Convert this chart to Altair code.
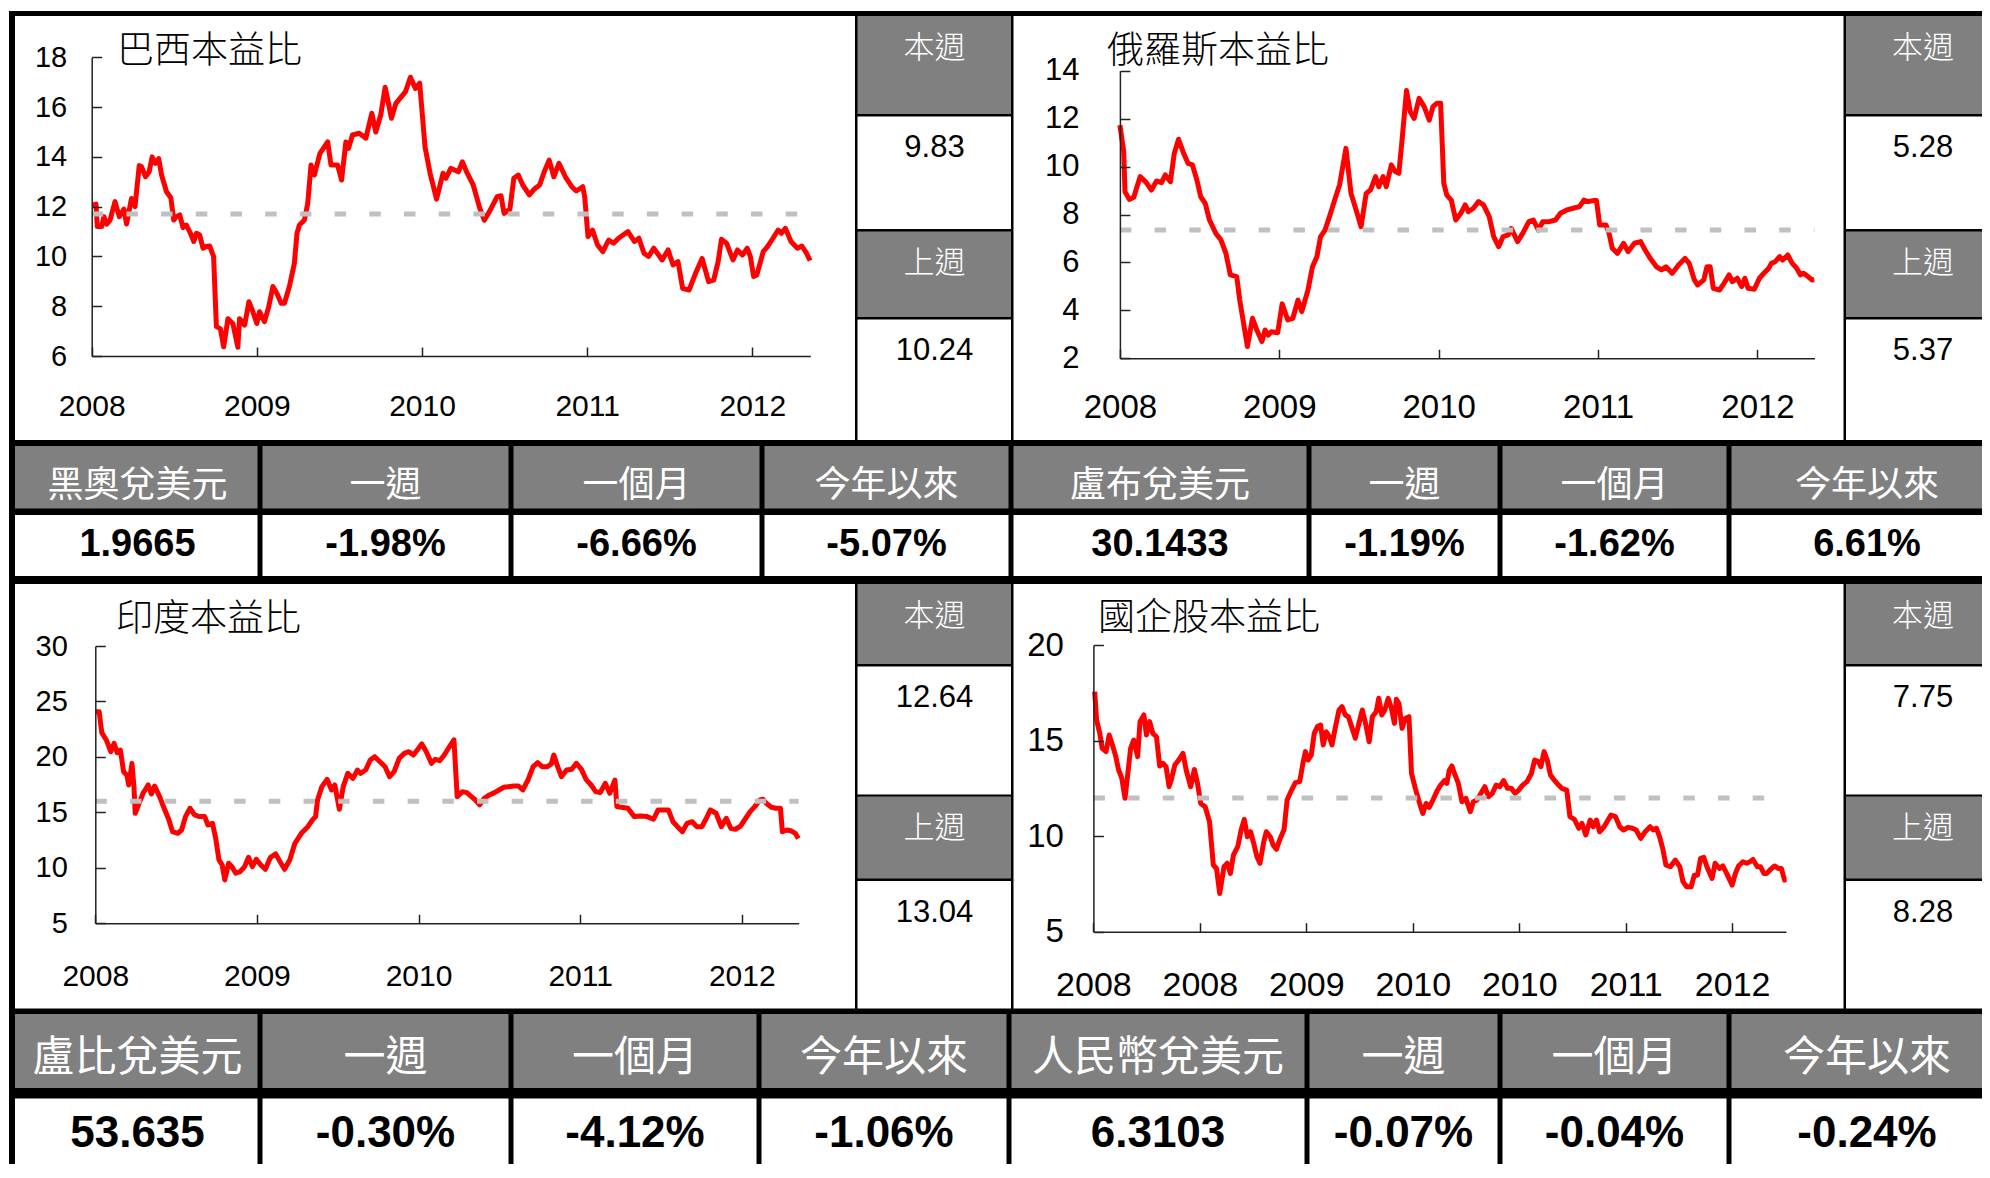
import altair as alt
import pandas as pd

# ---------------- data ----------------
titles = ["巴西本益比", "俄羅斯本益比", "印度本益比", "國企股本益比"]

brazil_t = [2008.006, 2008.026, 2008.034, 2008.060, 2008.074, 2008.091, 2008.111, 2008.141, 2008.167, 2008.195,
            2008.211, 2008.241, 2008.262, 2008.288, 2008.302, 2008.326, 2008.348, 2008.366, 2008.386, 2008.406,
            2008.423, 2008.453, 2008.479, 2008.497, 2008.513, 2008.533, 2008.553, 2008.573, 2008.598, 2008.618,
            2008.634, 2008.654, 2008.674, 2008.694, 2008.714, 2008.738, 2008.755, 2008.779, 2008.799, 2008.825,
            2008.855, 2008.885, 2008.895, 2008.926, 2008.952, 2008.976, 2009.000, 2009.016, 2009.046, 2009.072,
            2009.097, 2009.121, 2009.147, 2009.167, 2009.197, 2009.227, 2009.243, 2009.258, 2009.288, 2009.308,
            2009.328, 2009.348, 2009.382, 2009.429, 2009.449, 2009.489, 2009.513, 2009.539, 2009.555, 2009.579,
            2009.620, 2009.660, 2009.696, 2009.720, 2009.750, 2009.777, 2009.815, 2009.842, 2009.900, 2009.930,
            2009.960, 2009.986, 2010.018, 2010.049, 2010.088, 2010.127, 2010.145, 2010.174, 2010.220, 2010.244,
            2010.270, 2010.310, 2010.350, 2010.377, 2010.408, 2010.455, 2010.478, 2010.497, 2010.532, 2010.556,
            2010.583, 2010.610, 2010.650, 2010.681, 2010.712, 2010.740, 2010.770, 2010.798, 2010.829, 2010.868,
            2010.907, 2010.934, 2010.973, 2010.985, 2011.005, 2011.032, 2011.063, 2011.095, 2011.130, 2011.160,
            2011.190, 2011.247, 2011.286, 2011.313, 2011.344, 2011.372, 2011.403, 2011.454, 2011.490, 2011.520,
            2011.550, 2011.578, 2011.617, 2011.656, 2011.696, 2011.735, 2011.766, 2011.793, 2011.813, 2011.844,
            2011.883, 2011.910, 2011.940, 2011.969, 2011.988, 2012.008, 2012.027, 2012.066, 2012.093, 2012.125,
            2012.156, 2012.176, 2012.200, 2012.234, 2012.273, 2012.300, 2012.328, 2012.350]
brazil_v = [12.07, 12.1, 11.2, 11.2, 11.6, 11.3, 11.46, 12.2, 11.6, 11.9,
            11.3, 12.33, 12.0, 13.65, 13.6, 13.2, 13.4, 14.0, 13.74, 13.93,
            13.27, 12.6, 12.36, 11.46, 11.6, 11.67, 11.16, 11.26, 10.93, 10.6,
            10.93, 10.86, 10.33, 10.4, 10.42, 10.0, 7.18, 7.1, 6.37, 7.5,
            7.3, 6.35, 7.5, 7.24, 8.18, 7.78, 7.31, 7.78, 7.38, 7.98,
            8.79, 8.52, 8.12, 8.12, 8.79, 9.72, 10.93, 11.26, 11.46, 12.13,
            13.67, 13.27, 14.14, 14.6, 13.67, 13.67, 13.07, 14.6, 14.34, 14.88,
            14.95, 14.75, 15.75, 15.0, 15.68, 16.8, 15.55, 16.15, 16.62, 17.2,
            16.75, 16.96, 14.41, 13.34, 12.3, 13.34, 13.14, 13.54, 13.4, 13.8,
            13.4, 12.87, 11.93, 11.46, 11.8, 12.4, 12.44, 11.73, 11.89, 13.14,
            13.27, 12.87, 12.47, 12.71, 12.87, 13.4, 13.87, 13.2, 13.74, 13.2,
            12.8, 12.63, 12.8, 12.4, 10.8, 11.06, 10.46, 10.19, 10.66, 10.53,
            10.73, 11.0, 10.6, 10.73, 10.13, 10.0, 10.33, 9.86, 10.26, 9.66,
            9.79, 8.72, 8.65, 9.32, 9.92, 8.99, 9.05, 9.79, 10.69, 10.53,
            9.86, 10.26, 10.06, 10.33, 10.0, 9.19, 9.25, 10.19, 10.4, 10.73,
            11.06, 10.93, 11.13, 10.6, 10.33, 10.42, 10.13, 9.83]

russia_t = [2008.000, 2008.024, 2008.032, 2008.059, 2008.087, 2008.127, 2008.166, 2008.198, 2008.230, 2008.261,
            2008.285, 2008.317, 2008.341, 2008.368, 2008.396, 2008.428, 2008.455, 2008.483, 2008.507, 2008.535,
            2008.562, 2008.602, 2008.634, 2008.665, 2008.693, 2008.733, 2008.752, 2008.800, 2008.832, 2008.859,
            2008.891, 2008.911, 2008.931, 2008.950, 2008.990, 2009.018, 2009.053, 2009.085, 2009.117, 2009.141,
            2009.180, 2009.208, 2009.236, 2009.259, 2009.287, 2009.315, 2009.347, 2009.378, 2009.418, 2009.450,
            2009.485, 2009.513, 2009.545, 2009.572, 2009.604, 2009.624, 2009.651, 2009.671, 2009.703, 2009.727,
            2009.750, 2009.770, 2009.798, 2009.822, 2009.846, 2009.877, 2009.909, 2009.941, 2009.964, 2009.988,
            2010.012, 2010.032, 2010.051, 2010.079, 2010.107, 2010.139, 2010.166, 2010.186, 2010.218, 2010.250,
            2010.281, 2010.317, 2010.345, 2010.376, 2010.404, 2010.436, 2010.455, 2010.495, 2010.527, 2010.566,
            2010.594, 2010.626, 2010.653, 2010.693, 2010.733, 2010.764, 2010.804, 2010.844, 2010.883, 2010.911,
            2010.939, 2010.970, 2010.990, 2011.010, 2011.050, 2011.069, 2011.089, 2011.121, 2011.160, 2011.188,
            2011.228, 2011.267, 2011.295, 2011.327, 2011.366, 2011.398, 2011.426, 2011.465, 2011.505, 2011.545,
            2011.572, 2011.604, 2011.624, 2011.663, 2011.683, 2011.703, 2011.723, 2011.762, 2011.790, 2011.822,
            2011.842, 2011.873, 2011.901, 2011.921, 2011.941, 2011.980, 2012.012, 2012.040, 2012.071, 2012.087,
            2012.111, 2012.139, 2012.158, 2012.190, 2012.218, 2012.246, 2012.270, 2012.289, 2012.317, 2012.341,
            2012.356]
russia_v = [11.73, 10.62, 8.95, 8.63, 8.72, 9.58, 9.33, 9.02, 9.4, 9.33,
            9.65, 9.37, 10.55, 11.14, 10.62, 10.13, 10.07, 9.44, 8.74, 8.47,
            7.77, 7.21, 6.94, 6.38, 5.48, 5.41, 4.43, 2.49, 3.67, 3.18,
            2.7, 3.18, 2.97, 3.11, 3.07, 4.27, 3.6, 3.67, 4.43, 3.95,
            4.85, 5.82, 6.24, 7.08, 7.35, 7.91, 8.6, 9.23, 10.76, 8.88,
            8.12, 7.49, 8.88, 9.02, 9.58, 9.16, 9.58, 9.16, 10.07, 9.79,
            9.72, 11.1, 13.17, 12.29, 12.01, 12.85, 12.5, 11.94, 12.5, 12.64,
            12.64, 9.3, 8.81, 8.6, 7.77, 8.05, 8.4, 8.12, 8.26, 8.54,
            8.4, 7.91, 7.08, 6.66, 7.08, 7.15, 7.42, 6.87, 7.21, 7.7,
            7.77, 7.35, 7.7, 7.7, 7.77, 8.05, 8.19, 8.26, 8.33, 8.6,
            8.54, 8.58, 8.58, 7.56, 7.56, 7.21, 6.59, 6.38, 6.8, 6.45,
            6.8, 6.87, 6.52, 6.17, 5.82, 5.69, 5.82, 5.55, 5.89, 6.17,
            5.96, 5.27, 5.06, 5.27, 5.82, 5.82, 4.92, 4.85, 5.13, 5.48,
            5.2, 5.34, 4.99, 5.34, 4.92, 4.88, 5.34, 5.55, 5.76, 5.96,
            6.03, 6.24, 6.1, 6.31, 5.96, 5.76, 5.48, 5.55, 5.41, 5.27,
            5.28]

india_t = [2008.000, 2008.024, 2008.040, 2008.068, 2008.096, 2008.116, 2008.135, 2008.155, 2008.175, 2008.195,
           2008.207, 2008.227, 2008.239, 2008.247, 2008.271, 2008.295, 2008.327, 2008.347, 2008.367, 2008.398,
           2008.426, 2008.454, 2008.478, 2008.510, 2008.534, 2008.558, 2008.586, 2008.614, 2008.645, 2008.677,
           2008.697, 2008.725, 2008.745, 2008.765, 2008.785, 2008.801, 2008.825, 2008.845, 2008.869, 2008.896,
           2008.924, 2008.948, 2008.972, 2008.996, 2009.024, 2009.052, 2009.084, 2009.116, 2009.143, 2009.171,
           2009.203, 2009.235, 2009.275, 2009.315, 2009.343, 2009.363, 2009.375, 2009.402, 2009.434, 2009.462,
           2009.482, 2009.510, 2009.534, 2009.562, 2009.594, 2009.622, 2009.641, 2009.673, 2009.701, 2009.729,
           2009.761, 2009.793, 2009.821, 2009.849, 2009.880, 2009.912, 2009.940, 2009.968, 2009.992, 2010.020,
           2010.048, 2010.080, 2010.104, 2010.131, 2010.159, 2010.191, 2010.219, 2010.239, 2010.271, 2010.299,
           2010.327, 2010.351, 2010.378, 2010.406, 2010.438, 2010.470, 2010.498, 2010.526, 2010.558, 2010.586,
           2010.618, 2010.645, 2010.677, 2010.709, 2010.737, 2010.765, 2010.797, 2010.821, 2010.837, 2010.861,
           2010.884, 2010.916, 2010.948, 2010.976, 2011.008, 2011.036, 2011.068, 2011.096, 2011.124, 2011.155,
           2011.183, 2011.215, 2011.227, 2011.255, 2011.295, 2011.335, 2011.375, 2011.414, 2011.454, 2011.482,
           2011.514, 2011.546, 2011.574, 2011.602, 2011.633, 2011.661, 2011.693, 2011.721, 2011.753, 2011.781,
           2011.805, 2011.841, 2011.873, 2011.904, 2011.932, 2011.960, 2011.992, 2012.024, 2012.052, 2012.080,
           2012.112, 2012.131, 2012.151, 2012.183, 2012.211, 2012.239, 2012.251, 2012.279, 2012.303, 2012.331,
           2012.350]
india_v = [24.08, 24.08, 22.19, 21.53, 20.47, 21.23, 20.38, 20.62, 18.67, 18.37,
           17.47, 19.42, 17.32, 14.92, 15.82, 16.72, 17.47, 16.66, 17.38, 16.42,
           15.37, 14.38, 13.26, 13.11, 13.41, 14.62, 15.37, 14.77, 14.62, 14.62,
           13.86, 14.01, 12.66, 10.71, 10.26, 8.91, 10.41, 10.11, 9.51, 9.66,
           10.11, 10.95, 10.11, 10.77, 10.26, 9.87, 10.95, 11.25, 10.56, 9.87,
           10.71, 12.21, 13.11, 13.71, 14.31, 14.62, 16.12, 17.32, 17.98, 17.02,
           17.47, 15.28, 17.32, 18.52, 18.07, 18.82, 18.52, 18.82, 19.72, 20.02,
           19.57, 19.12, 18.22, 18.67, 19.87, 20.32, 20.47, 20.17, 20.62, 21.17,
           20.47, 19.42, 19.78, 19.66, 20.17, 20.92, 21.53, 16.42, 16.87, 16.78,
           16.42, 16.12, 15.67, 16.27, 16.57, 16.78, 17.02, 17.26, 17.32, 17.38,
           17.38, 17.02, 17.92, 19.12, 19.48, 19.12, 19.12, 19.36, 20.17, 19.12,
           18.22, 18.82, 18.88, 19.42, 18.88, 17.98, 17.47, 16.87, 16.78, 17.62,
           16.72, 17.92, 15.52, 15.46, 15.37, 14.62, 14.68, 14.62, 14.38, 15.22,
           15.22, 15.22, 14.16, 13.71, 13.26, 14.01, 14.16, 13.71, 13.71, 14.47,
           15.22, 14.92, 13.71, 14.47, 13.56, 13.47, 13.77, 14.47, 15.07, 15.52,
           16.12, 16.18, 15.82, 15.46, 15.37, 15.37, 13.26, 13.41, 13.35, 13.11,
           12.64]

hshare_t = [2008.008, 2008.020, 2008.040, 2008.055, 2008.079, 2008.099, 2008.119, 2008.138, 2008.158, 2008.178,
            2008.198, 2008.217, 2008.233, 2008.253, 2008.277, 2008.292, 2008.316, 2008.332, 2008.352, 2008.372,
            2008.395, 2008.415, 2008.435, 2008.455, 2008.474, 2008.490, 2008.510, 2008.534, 2008.561, 2008.581,
            2008.609, 2008.632, 2008.652, 2008.672, 2008.700, 2008.727, 2008.751, 2008.771, 2008.791, 2008.818,
            2008.838, 2008.858, 2008.877, 2008.905, 2008.925, 2008.945, 2008.964, 2008.984, 2009.004, 2009.024,
            2009.043, 2009.067, 2009.083, 2009.107, 2009.126, 2009.146, 2009.166, 2009.194, 2009.213, 2009.241,
            2009.265, 2009.292, 2009.312, 2009.328, 2009.344, 2009.364, 2009.383, 2009.403, 2009.423, 2009.439,
            2009.458, 2009.478, 2009.494, 2009.514, 2009.538, 2009.557, 2009.577, 2009.597, 2009.617, 2009.640,
            2009.660, 2009.684, 2009.704, 2009.727, 2009.747, 2009.771, 2009.787, 2009.806, 2009.826, 2009.846,
            2009.866, 2009.885, 2009.897, 2009.913, 2009.933, 2009.953, 2009.976, 2009.992, 2010.016, 2010.043,
            2010.063, 2010.083, 2010.103, 2010.126, 2010.150, 2010.174, 2010.198, 2010.213, 2010.229, 2010.245,
            2010.261, 2010.285, 2010.308, 2010.332, 2010.360, 2010.379, 2010.403, 2010.427, 2010.451, 2010.474,
            2010.498, 2010.522, 2010.545, 2010.569, 2010.593, 2010.617, 2010.640, 2010.664, 2010.688, 2010.715,
            2010.743, 2010.763, 2010.787, 2010.802, 2010.822, 2010.842, 2010.862, 2010.885, 2010.913, 2010.933,
            2010.964, 2010.984, 2011.012, 2011.040, 2011.059, 2011.083, 2011.111, 2011.130, 2011.150, 2011.170,
            2011.198, 2011.217, 2011.241, 2011.269, 2011.296, 2011.320, 2011.348, 2011.375, 2011.399, 2011.427,
            2011.455, 2011.486, 2011.506, 2011.526, 2011.545, 2011.565, 2011.585, 2011.613, 2011.644, 2011.672,
            2011.692, 2011.715, 2011.743, 2011.763, 2011.783, 2011.802, 2011.822, 2011.842, 2011.874, 2011.893,
            2011.921, 2011.941, 2011.960, 2011.980, 2012.000, 2012.020, 2012.040, 2012.067, 2012.091, 2012.111,
            2012.130, 2012.158, 2012.178, 2012.198, 2012.217, 2012.237, 2012.265, 2012.289, 2012.308, 2012.328,
            2012.336]
hshare_v = [17.56, 16.08, 15.38, 14.59, 14.42, 15.29, 14.77, 14.24, 13.46, 13.02,
            11.98, 13.37, 14.59, 15.03, 14.16, 15.99, 16.34, 15.29, 15.99, 15.38,
            15.2, 13.67, 13.81, 13.63, 12.59, 13.02, 13.72, 13.98, 14.33, 13.46,
            12.59, 13.49, 12.76, 11.71, 11.54, 10.76, 8.49, 8.31, 7.0, 8.4,
            8.58, 8.05, 9.01, 9.48, 10.32, 10.88, 9.97, 10.23, 9.62, 8.92,
            8.58, 9.71, 10.23, 9.97, 9.53, 9.31, 9.8, 10.35, 11.89, 12.41,
            12.8, 12.85, 13.81, 14.42, 13.98, 14.24, 15.38, 15.73, 15.81, 14.77,
            15.46, 15.2, 14.77, 15.64, 16.6, 16.77, 16.34, 16.25, 15.73, 15.12,
            15.81, 16.6, 15.9, 14.94, 16.25, 16.51, 17.21, 16.34, 16.63, 17.21,
            16.69, 15.9, 17.16, 16.95, 15.64, 16.16, 16.25, 13.28, 12.5, 11.71,
            11.19, 11.71, 11.51, 11.89, 12.33, 12.67, 12.9, 12.76, 13.46, 13.67,
            13.28, 12.76, 11.8, 11.98, 11.28, 11.8, 11.89, 12.24, 12.59, 12.06,
            12.24, 12.67, 12.59, 12.9, 12.5, 12.5, 12.24, 12.41, 12.67, 12.85,
            13.28, 13.98, 13.9, 13.63, 14.42, 13.98, 13.2, 12.94, 12.67, 12.5,
            12.41, 11.02, 10.88, 10.41, 10.67, 10.06, 10.84, 10.49, 10.84, 10.23,
            10.49, 10.76, 11.1, 11.02, 10.49, 10.32, 10.46, 10.41, 10.32, 9.88,
            10.23, 10.49, 10.32, 10.41, 9.97, 9.36, 8.49, 8.4, 8.75, 8.4,
            7.62, 7.35, 7.35, 7.96, 7.96, 8.84, 8.89, 8.4, 7.79, 8.58,
            8.31, 8.44, 8.14, 7.79, 7.44, 8.05, 8.44, 8.66, 8.58, 8.66,
            8.78, 8.4, 8.4, 8.05, 8.05, 8.23, 8.44, 8.31, 8.31, 7.7,
            7.75]

avg_values = [11.7, 7.35, 16.0, 12.0]
this_week = ["9.83", "5.28", "12.64", "7.75"]
last_week = ["10.24", "5.37", "13.04", "8.28"]
side_labels = ["本週", "上週"]
year_ticks = [2008, 2009, 2010, 2011, 2012]
hshare_ticks = [2008, 2008 + 8 / 12, 2009 + 4 / 12, 2010, 2010 + 8 / 12, 2011 + 4 / 12, 2012]

fx_head_1 = ["黑奧兌美元", "一週", "一個月", "今年以來", "盧布兌美元", "一週", "一個月", "今年以來"]
fx_val_1 = ["1.9665", "-1.98%", "-6.66%", "-5.07%", "30.1433", "-1.19%", "-1.62%", "6.61%"]
fx_head_2 = ["盧比兌美元", "一週", "一個月", "今年以來", "人民幣兌美元", "一週", "一個月", "今年以來"]
fx_val_2 = ["53.635", "-0.30%", "-4.12%", "-1.06%", "6.3103", "-0.07%", "-0.04%", "-0.24%"]

# ---------------- layout (page pixel coordinates, minus margin M) ----------------
W, H = 1974, 1156
M = 8
BLACK, WHITE, GRAY = "#000000", "#ffffff", "#808080"
CJK = "Noto Sans CJK TC"
NUM = "Liberation Sans, Arial, Helvetica, sans-serif"
NARROW = "Liberation Sans Narrow, Arial Narrow, Liberation Sans, Arial, sans-serif"
AXC = "#222222"

rects = []


def rect(x0, y0, x1, y1, fill):
    rects.append({"x": x0 - M, "x2": x1 - M, "y": y0 - M, "y2": y1 - M, "fill": fill})


rect(9, 11, 2010, 1200, BLACK)
panel_rows = [(16, 440), (584, 1008.5)]
for y0, y1 in panel_rows:
    rect(15, y0, 855, y1, WHITE)
    rect(1013.5, y0, 1843.5, y1, WHITE)

side_boxes = [
    [(16, 114, GRAY), (116.5, 229, WHITE), (231.5, 317, GRAY), (319.5, 440, WHITE)],
    [(584, 664, GRAY), (666.5, 794.5, WHITE), (796.5, 878.5, GRAY), (881, 1008.5, WHITE)],
]
side_x = [(857.5, 1011), (1846, 2010)]
side_cx = [934.5, 1923]
for boxes in side_boxes:
    for sx0, sx1 in side_x:
        for by0, by1, f in boxes:
            rect(sx0, by0, sx1, by1, f)

table_rows = [
    dict(bounds=[15, 260, 511, 762, 1011, 1309, 1500, 1729, 2005], head=(446, 508.5), val=(515, 576),
         heads=fx_head_1, vals=fx_val_1, hfs=36, vfs=38, hy=477.5 + M, vy=537 + M),
    dict(bounds=[15, 260, 511, 759, 1009, 1307, 1500, 1729, 2005], head=(1014, 1088), val=(1098.5, 1173),
         heads=fx_head_2, vals=fx_val_2, hfs=42, vfs=44, hy=1050 + M, vy=1126 + M),
]
head_txt, val_txt = [], []
for tr in table_rows:
    b = tr["bounds"]
    for i in range(8):
        left = b[i] + (0 if i == 0 else 2.5)
        right = 2010 if i == 7 else b[i + 1] - 2.5
        rect(left, tr["head"][0], right, tr["head"][1], GRAY)
        rect(left, tr["val"][0], right, tr["val"][1], WHITE)
        cx = (b[i] + b[i + 1]) / 2 - M
        head_txt.append({"x": cx, "y": tr["hy"] - M, "text": tr["heads"][i], "fs": tr["hfs"]})
        val_txt.append({"x": cx, "y": tr["vy"] - M, "text": tr["vals"][i], "fs": tr["vfs"]})

# side panel texts (30px below each box top)
side_lab_txt, side_val_txt = [], []
for r, boxes in enumerate(side_boxes):
    for c in range(2):
        idx = r * 2 + c
        cx = side_cx[c] - M
        side_lab_txt.append({"x": cx, "y": boxes[0][0] + 30 + 2.5 - M, "text": side_labels[0]})
        side_val_txt.append({"x": cx, "y": boxes[1][0] + 30 + 1.8 - M, "text": this_week[idx]})
        side_lab_txt.append({"x": cx, "y": boxes[2][0] + 30 + 2.5 - M, "text": side_labels[1]})
        side_val_txt.append({"x": cx, "y": boxes[3][0] + 30 + 1.8 - M, "text": last_week[idx]})

charts = [
    dict(t=brazil_t, v=brazil_v, avg=avg_values[0], xdom=[2008, 2012.351], ydom=[6, 18], yvals=list(range(6, 19, 2)),
         xvals=year_ticks, xpx=(91.7, 810.3), ypx=(356.0, 57.3), title=(117, 49), yfs=29, ypad=25, xfs=30, xpad=35),
    dict(t=russia_t, v=russia_v, avg=avg_values[1], xdom=[2008, 2012.357], ydom=[2, 14], yvals=list(range(2, 15, 2)),
         xvals=year_ticks, xpx=(1119.9, 1814.4), ypx=(358.3, 70.7), title=(1107, 49), yfs=31, ypad=41, xfs=33, xpad=33),
    dict(t=india_t, v=india_v, avg=avg_values[2], xdom=[2008, 2012.352], ydom=[5, 30], yvals=list(range(5, 31, 5)),
         xvals=year_ticks, xpx=(95.3, 798.7), ypx=(923.3, 646.0), title=(116, 617), yfs=29, ypad=28, xfs=30, xpad=38),
    dict(t=hshare_t, v=hshare_v, avg=avg_values[3], xdom=[2008, 2012.337], ydom=[5, 20], yvals=list(range(5, 21, 5)),
         xvals=hshare_ticks, xpx=(1093.4, 1786.0), ypx=(931.7, 645.0), title=(1098, 616), yfs=33, ypad=30, xfs=34, xpad=37),
]

layers = []
layers.append(
    alt.Chart(pd.DataFrame(rects)).mark_rect(strokeWidth=0).encode(
        x=alt.X("x:Q", scale=None, axis=None), x2="x2:Q",
        y=alt.Y("y:Q", scale=None, axis=None), y2="y2:Q",
        color=alt.Color("fill:N", scale=None, legend=None),
    )
)

title_txt = []
for i, c in enumerate(charts):
    x0, x1 = c["xpx"][0] - M, c["xpx"][1] - M
    yb, yt = c["ypx"][0] - M, c["ypx"][1] - M
    xs = alt.Scale(domain=c["xdom"], range=[x0, x1], nice=False, zero=False)
    ys = alt.Scale(domain=c["ydom"], range=[yb, yt], nice=False, zero=False)
    df = pd.DataFrame({"t": c["t"], "v": c["v"]})
    xaxis = alt.Axis(orient="bottom", offset=yb - H, values=c["xvals"], labelExpr="floor(datum.value)",
                     ticks=False, domain=True, domainColor=AXC, domainWidth=1.5, grid=False, title=None,
                     labelFont=NUM, labelFontSize=c["xfs"], labelColor=BLACK, labelPadding=c["xpad"],
                     labelFlush=False, labelOverlap=False, labelBound=False, zindex=1)
    yaxis = alt.Axis(orient="left", offset=-x0, values=c["yvals"], format="d",
                     ticks=False, domain=True, domainColor=AXC, domainWidth=1.5, grid=False, title=None,
                     labelFont=NUM, labelFontSize=c["yfs"], labelColor=BLACK, labelPadding=c["ypad"],
                     labelFlush=False, labelOverlap=False, labelBound=False, zindex=1)
    layers.append(
        alt.Chart(df).mark_line(color="#ff0000", strokeWidth=5, strokeJoin="round").encode(
            x=alt.X("t:Q", scale=xs, axis=xaxis),
            y=alt.Y("v:Q", scale=ys, axis=yaxis),
        )
    )
    avg_df = pd.DataFrame({"t0": [c["xdom"][0]], "t1": [c["xdom"][1]], "v": [c["avg"]]})
    xtick_axis = alt.Axis(orient="top", offset=-yb, values=c["xvals"], labels=False, domain=False,
                          ticks=True, tickSize=9, tickColor=AXC, tickWidth=1.5, grid=False, title=None, zindex=1)
    ytick_axis = alt.Axis(orient="right", offset=x0 - W, values=c["yvals"], labels=False, domain=False,
                          ticks=True, tickSize=10, tickColor=AXC, tickWidth=1.5, grid=False, title=None, zindex=1)
    layers.append(
        alt.Chart(avg_df).mark_rule(color="#c0c0c0", strokeWidth=5, strokeDash=[11.5, 23.2]).encode(
            x=alt.X("t0:Q", scale=xs, axis=xtick_axis), x2="t1:Q",
            y=alt.Y("v:Q", scale=ys, axis=ytick_axis),
        )
    )
    title_txt.append({"x": c["title"][0] - M, "y": c["title"][1] + 3 - M, "text": titles[i]})


def text_layer(rows, font, color, align="center", weight="normal", size=None):
    df = pd.DataFrame(rows)
    kw = dict(font=font, color=color, align=align, baseline="middle", fontWeight=weight)
    if size is not None:
        kw["fontSize"] = size
    enc = dict(x=alt.X("x:Q", scale=None, axis=None), y=alt.Y("y:Q", scale=None, axis=None), text="text:N")
    if size is None:
        enc["size"] = alt.Size("fs:Q", scale=None, legend=None)
    return alt.Chart(df).mark_text(**kw).encode(**enc)


layers.append(text_layer(title_txt, CJK, BLACK, align="left", weight=300, size=37))
layers.append(text_layer(side_lab_txt, CJK, WHITE, weight=300, size=31))
layers.append(text_layer(side_val_txt, NUM, BLACK, size=31))
layers.append(text_layer(head_txt, CJK, WHITE))
layers.append(text_layer(val_txt, NARROW, BLACK, weight="bold"))

chart = alt.layer(*layers).resolve_scale(
    x="independent", y="independent"
).resolve_axis(
    x="independent", y="independent"
).properties(
    width=W, height=H, padding=0, autosize=alt.AutoSizeParams(type="none")
).configure_view(stroke=None)

chart.save("out.html", embed_options={"renderer": "svg", "actions": False})
